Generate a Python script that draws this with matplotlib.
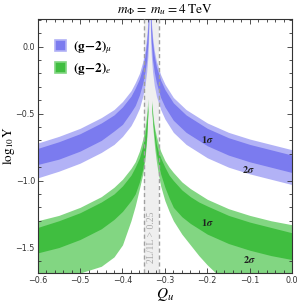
import matplotlib
matplotlib.use('Agg')
import matplotlib.pyplot as plt
from matplotlib.patches import Patch
from matplotlib.ticker import MultipleLocator

plt.rcParams['mathtext.fontset'] = 'stix'

# (g-2)_mu band, left of the pole: Q_u and log10 Y of the four edges
mu_q_left = [-0.6, -0.55, -0.5, -0.45, -0.42, -0.40, -0.38, -0.37, -0.36,
             -0.352, -0.347, -0.343, -0.340, -0.3385, -0.337]
mu_lt_left = [-0.72, -0.67, -0.61, -0.53, -0.47, -0.41, -0.33, -0.27, -0.20,
              -0.11, -0.03, 0.07, 0.19, 0.30, 0.50]
mu_dt_left = [-0.76, -0.71, -0.65, -0.57, -0.51, -0.45, -0.37, -0.31, -0.24,
              -0.15, -0.07, 0.03, 0.15, 0.26, 0.45]
mu_db_left = [-0.88, -0.84, -0.78, -0.70, -0.63, -0.58, -0.49, -0.44, -0.36,
              -0.27, -0.19, -0.10, 0.03, 0.13, 0.33]
mu_lb_left = [-0.98, -0.93, -0.87, -0.79, -0.73, -0.67, -0.59, -0.53, -0.46,
              -0.37, -0.29, -0.19, -0.07, 0.04, 0.24]

# (g-2)_mu band, right of the pole
mu_q_right = [-0.335, -0.3335, -0.332, -0.329, -0.325, -0.32, -0.31, -0.30,
              -0.28, -0.25, -0.2, -0.15, -0.1, -0.05, 0.0]
mu_lt_right = [0.50, 0.30, 0.19, 0.07, -0.03, -0.11, -0.21, -0.28, -0.38,
               -0.47, -0.57, -0.64, -0.69, -0.73, -0.77]
mu_dt_right = [0.45, 0.26, 0.15, 0.03, -0.07, -0.15, -0.25, -0.32, -0.42,
               -0.51, -0.61, -0.68, -0.73, -0.77, -0.81]
mu_db_right = [0.33, 0.13, 0.03, -0.10, -0.19, -0.27, -0.38, -0.45, -0.55,
               -0.64, -0.74, -0.81, -0.86, -0.90, -0.94]
mu_lb_right = [0.24, 0.04, -0.07, -0.19, -0.29, -0.37, -0.47, -0.54, -0.64,
               -0.73, -0.83, -0.90, -0.95, -0.99, -1.03]

# (g-2)_e band, left of the pole
e_q_left = [-0.6, -0.55, -0.5, -0.45, -0.42, -0.40, -0.38, -0.37, -0.36,
            -0.352, -0.347, -0.343, -0.340]
e_lt_left = [-1.30, -1.26, -1.20, -1.12, -1.05, -0.99, -0.91, -0.86, -0.78,
             -0.69, -0.61, -0.51, -0.39]
e_dt_left = [-1.35, -1.30, -1.24, -1.16, -1.10, -1.04, -0.96, -0.90, -0.83,
             -0.74, -0.66, -0.56, -0.44]
e_db_left = [-1.54, -1.50, -1.44, -1.36, -1.29, -1.23, -1.15, -1.10, -1.01,
             -0.91, -0.81, -0.67, -0.48]
e_lb_left = [-1.80, -1.75, -1.69, -1.64, -1.57, -1.48, -1.30, -1.19, -1.06,
             -0.95, -0.84, -0.70, -0.50]

# (g-2)_e band, right of the pole
e_q_right = [-0.331, -0.328, -0.324, -0.32, -0.315, -0.31, -0.30, -0.29,
             -0.28, -0.26, -0.24, -0.22, -0.2, -0.15, -0.1, -0.05, 0.0]
e_lt_right = [-0.40, -0.52, -0.61, -0.67, -0.73, -0.78, -0.85, -0.90, -0.94,
              -1.01, -1.06, -1.10, -1.14, -1.21, -1.26, -1.30, -1.33]
e_dt_right = [-0.42, -0.55, -0.64, -0.73, -0.79, -0.83, -0.90, -0.96, -1.00,
              -1.07, -1.12, -1.16, -1.19, -1.26, -1.31, -1.35, -1.39]
e_db_right = [-0.46, -0.58, -0.70, -0.80, -0.88, -0.95, -1.05, -1.13, -1.20,
              -1.27, -1.32, -1.36, -1.40, -1.47, -1.52, -1.56, -1.59]
e_lb_right = [-0.48, -0.62, -0.76, -0.86, -0.96, -1.04, -1.15, -1.23, -1.30,
              -1.40, -1.48, -1.56, -1.63, -1.78, -1.88, -1.95, -2.00]

strip = (-0.35, -0.313)
x_ticks = [-0.6, -0.5, -0.4, -0.3, -0.2, -0.1, 0.0]
y_ticks = [-1.5, -1.0, -0.5, 0.0]

blue_dark, blue_light = '#7b7bef', '#b2b2f6'
green_dark, green_light = '#40be40', '#82d682'

fig = plt.figure(figsize=(2.99, 3.05), dpi=100)
ax = fig.add_axes([0.126, 0.105, 0.851, 0.833])

# gray strip where 2-loop/1-loop > 0.25
ax.axvspan(strip[0], strip[1], color='#efefef', lw=0, zorder=0)
for xv in strip:
    ax.axvline(xv, color='#a0a0a0', ls=(0, (3, 2)), lw=1.0, zorder=3)

# light = 2 sigma, dark = 1 sigma
ax.fill_between(mu_q_left, mu_lt_left, mu_lb_left, color=blue_light, lw=0, zorder=1)
ax.fill_between(mu_q_left, mu_dt_left, mu_db_left, color=blue_dark, lw=0, zorder=2)
ax.fill_between(mu_q_right, mu_lt_right, mu_lb_right, color=blue_light, lw=0, zorder=1)
ax.fill_between(mu_q_right, mu_dt_right, mu_db_right, color=blue_dark, lw=0, zorder=2)
ax.fill_between(e_q_left, e_lt_left, e_lb_left, color=green_light, lw=0, zorder=1)
ax.fill_between(e_q_left, e_dt_left, e_db_left, color=green_dark, lw=0, zorder=2)
ax.fill_between(e_q_right, e_lt_right, e_lb_right, color=green_light, lw=0, zorder=1)
ax.fill_between(e_q_right, e_dt_right, e_db_right, color=green_dark, lw=0, zorder=2)

ax.text(-0.331, -1.42, '2L/1L > 0.25', rotation=90, ha='center', va='center',
        fontsize=7, color='#a8a8a8', family='Liberation Serif', zorder=4)

for x, y, s in [(-0.2, -0.69, r'$\mathbf{1}\boldsymbol{\sigma}$'),
                (-0.104, -0.92, r'$\mathbf{2}\boldsymbol{\sigma}$'),
                (-0.2, -1.31, r'$\mathbf{1}\boldsymbol{\sigma}$'),
                (-0.1, -1.59, r'$\mathbf{2}\boldsymbol{\sigma}$')]:
    ax.text(x, y, s, ha='center', va='center', fontsize=7.5, color='#202020', zorder=5)

handles = [Patch(facecolor=blue_dark, edgecolor=blue_light, lw=1.2),
           Patch(facecolor=green_dark, edgecolor=green_light, lw=1.2)]
ax.legend(handles, [r'$\mathbf{(g\!-\!2)}_{\mu}$', r'$\mathbf{(g\!-\!2)}_{e}$'],
          loc='upper left', bbox_to_anchor=(0.021, 0.968), frameon=False,
          fontsize=9.5, handlelength=0.85, handleheight=0.85, handletextpad=0.5,
          labelspacing=0.4)

ax.set_xlim(-0.6, 0.0)
ax.set_ylim(-1.69, 0.207)
ax.xaxis.set_minor_locator(MultipleLocator(0.02))
ax.yaxis.set_minor_locator(MultipleLocator(0.1))
ax.set_xticks(x_ticks)
ax.set_xticklabels([f'{v:.1f}'.replace('-', '\u2212') for v in x_ticks])
ax.set_yticks(y_ticks)
ax.set_yticklabels([f'{v:.1f}'.replace('-', '\u2212') for v in y_ticks])
ax.tick_params(which='both', direction='in', top=True, right=True,
               labelsize=5.8, colors='#333333', width=0.6, pad=2)
ax.tick_params(which='major', length=3.5)
ax.tick_params(which='minor', length=2)
for sp in ax.spines.values():
    sp.set_color('#333333')
    sp.set_linewidth(0.8)

ax.set_xlabel(r'$Q_u$', fontsize=11, labelpad=1)
ax.set_ylabel(r'$\mathrm{log}_{10}\mathrm{Y}$', fontsize=9.5)
ax.yaxis.set_label_coords(-0.082, 0.5)
ax.set_title(r'$m_\Phi =\ m_u = 4\ \mathrm{TeV}$', fontsize=9.5, pad=4)

fig.savefig('out.png', dpi=100)
